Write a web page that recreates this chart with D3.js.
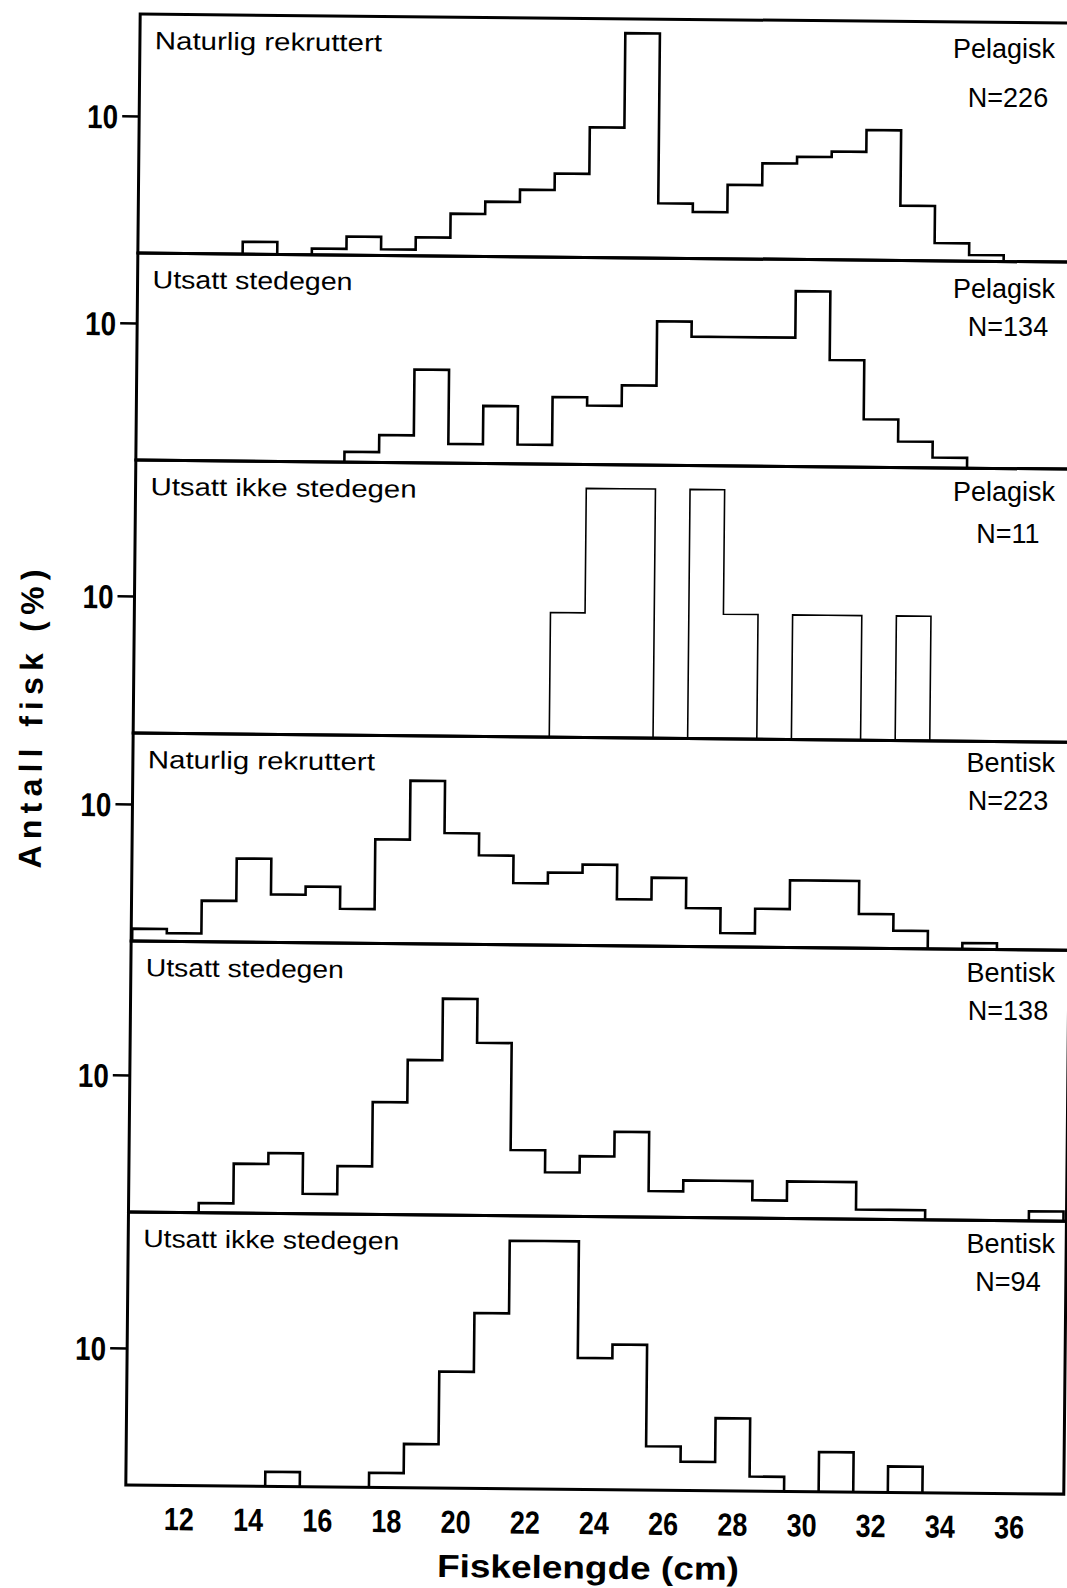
<!DOCTYPE html>
<html>
<head>
<meta charset="utf-8">
<script src="https://cdn.jsdelivr.net/npm/d3@7"></script>
<style>
  body { margin: 0; background: #fff; }
  svg { display: block; }
  text { font-family: "Liberation Sans", Arial, Helvetica, sans-serif; fill: #000; }
</style>
</head>
<body>
<div id="chart"></div>
<script>
// length classes (cm), one bin per cm, centred on the integer
const lengths = [11, 12, 13, 14, 15, 16, 17, 18, 19, 20, 21, 22, 23, 24, 25, 26, 27, 28, 29, 30, 31, 32, 33, 34, 35, 36, 37];

// percent of fish in each length class
const natPelagisk   = [0, 0, 0, 0.9, 0, 0.45, 1.35, 0.45, 1.35, 3.1, 4.0, 4.9, 6.1, 9.5, 16.4, 4.0, 3.4, 5.4, 7.0, 7.5, 7.9, 9.5, 4.0, 1.3, 0.45, 0, 0];
const stedPelagisk  = [0, 0, 0, 0, 0, 0, 0.75, 2.0, 6.8, 1.4, 4.2, 1.4, 4.9, 4.3, 5.8, 10.5, 9.4, 9.4, 9.4, 12.8, 7.8, 3.5, 1.9, 0.75, 0, 0, 0];
const ikkePelagisk  = [0, 0, 0, 0, 0, 0, 0, 0, 0, 0, 0, 0, 9.09, 18.18, 18.18, 0, 18.18, 9.09, 0, 9.09, 9.09, 0, 9.09, 0, 0, 0, 0];
const natBentisk    = [0.9, 0.6, 3.0, 6.1, 3.5, 4.1, 2.5, 7.6, 11.9, 8.1, 6.5, 4.5, 5.3, 5.9, 3.4, 5.0, 2.8, 1.0, 2.8, 4.9, 4.9, 2.5, 1.3, 0, 0.45, 0, 0];
const stedBentisk   = [0, 0, 0.7, 3.6, 4.4, 1.45, 3.5, 8.2, 11.3, 15.8, 12.6, 4.8, 3.2, 4.4, 6.2, 1.9, 2.7, 2.7, 1.3, 2.7, 2.7, 0.7, 0.7, 0, 0, 0, 0.7];
const ikkeBentisk   = [0, 0, 0, 0, 1.06, 0, 0, 1.06, 3.2, 8.5, 12.8, 18.1, 18.1, 9.6, 10.6, 3.2, 2.1, 5.3, 1.06, 0, 2.9, 0, 1.9, 0, 0, 0, 0];

const seriesList = [natPelagisk, stedPelagisk, ikkePelagisk, natBentisk, stedBentisk, ikkeBentisk];
const panelTitles = ['Naturlig rekruttert', 'Utsatt stedegen', 'Utsatt ikke stedegen',
                     'Naturlig rekruttert', 'Utsatt stedegen', 'Utsatt ikke stedegen'];
const habitats = ['Pelagisk', 'Pelagisk', 'Pelagisk', 'Bentisk', 'Bentisk', 'Bentisk'];
const sampleSizes = [226, 134, 11, 223, 138, 94];
const xTicks = [12, 14, 16, 18, 20, 22, 24, 26, 28, 30, 32, 34, 36];
const yTick = [10];

// layout
const width = 1067, height = 1588;
const left = 133, right = 1071;
const panelTop  = [14, 253, 460, 733, 941, 1212];
const panelBase = [253, 460, 733, 941, 1212, 1485];
const titleLength = [227, 200, 266, 227, 198, 256];
const habitatY = [48, 288, 491, 762, 972, 1243];
const countY = [97, 326, 533, 800, 1010, 1281];
const histStroke = [2.6, 2.6, 1.6, 2.6, 2.6, 2.6];
const pxPerPct = 13.7;

const svg = d3.select('#chart').append('svg')
  .attr('width', width)
  .attr('height', height);

svg.append('rect').attr('width', width).attr('height', height).attr('fill', '#fff');

// the scan is tilted by about half a degree
const root = svg.append('g').attr('transform', 'rotate(0.56,133,750)');

const x = d3.scaleLinear().domain([10.5, 37.5]).range([134, 1068]);

seriesList.forEach((values, i) => {
  const top = panelTop[i];
  const base = panelBase[i];
  const y = d3.scaleLinear().domain([0, 10]).range([base, base - 10 * pxPerPct]);

  const g = root.append('g').attr('class', 'panel');

  const clipId = 'clip' + i;
  g.append('clipPath').attr('id', clipId)
    .append('rect')
    .attr('x', left).attr('y', top)
    .attr('width', right - left).attr('height', base - top);

  // split into runs of non-empty classes
  const runs = [];
  let cur = null;
  lengths.forEach((l, j) => {
    if (values[j] > 0) {
      if (!cur) { cur = []; runs.push(cur); }
      cur.push([l, values[j]]);
    } else {
      cur = null;
    }
  });

  const line = d3.line()
    .x((d) => x(d[0]))
    .y((d) => y(d[1]))
    .curve(d3.curveStepAfter);

  g.append('g')
    .attr('clip-path', `url(#${clipId})`)
    .selectAll('path')
    .data(runs)
    .join('path')
    .attr('d', (r) => line([
      [r[0][0] - 0.5, 0],
      ...r.map(([l, v]) => [l - 0.5, v]),
      [r[r.length - 1][0] + 0.5, 0],
    ]))
    .attr('fill', 'none')
    .attr('stroke', '#000')
    .attr('stroke-width', histStroke[i])
    .attr('stroke-linejoin', 'miter');

  // frame
  g.append('rect')
    .attr('x', left).attr('y', top)
    .attr('width', right - left).attr('height', base - top)
    .attr('fill', 'none')
    .attr('stroke', '#000')
    .attr('stroke-width', 3);

  // y tick "10"
  const yAxis = d3.axisLeft(y).tickValues(yTick).tickSize(17).tickPadding(4);
  const ya = g.append('g')
    .attr('transform', `translate(${left},0)`)
    .call(yAxis);
  ya.select('.domain').remove();
  ya.selectAll('line').attr('stroke', '#000').attr('stroke-width', 2.5);
  ya.selectAll('text')
    .attr('font-size', 33)
    .attr('font-weight', 'bold')
    .attr('font-family', '"Liberation Sans", Arial, sans-serif')
    .attr('fill', '#000')
    .attr('dy', '0.36em')
    .attr('textLength', 31)
    .attr('lengthAdjust', 'spacingAndGlyphs');

  // panel title
  g.append('text')
    .attr('x', left + 15)
    .attr('y', top + 35)
    .attr('font-size', 25)
    .attr('textLength', titleLength[i])
    .attr('lengthAdjust', 'spacingAndGlyphs')
    .text(panelTitles[i]);

  // habitat and N labels (not tilted in the scan)
  svg.append('text')
    .attr('x', 1055)
    .attr('y', habitatY[i])
    .attr('dy', '0.36em')
    .attr('text-anchor', 'end')
    .attr('font-size', 27)
    .text(habitats[i]);

  svg.append('text')
    .attr('x', 1008)
    .attr('y', countY[i])
    .attr('dy', '0.36em')
    .attr('text-anchor', 'middle')
    .attr('font-size', 27)
    .text('N=' + sampleSizes[i]);
});

// x axis labels under the bottom panel
const xAxis = d3.axisBottom(x).tickValues(xTicks).tickSize(0).tickPadding(22);
const xa = root.append('g')
  .attr('transform', `translate(0,${panelBase[5]})`)
  .call(xAxis);
xa.select('.domain').remove();
xa.selectAll('text')
  .attr('font-size', 32)
  .attr('font-weight', 'bold')
  .attr('font-family', '"Liberation Sans", Arial, sans-serif')
  .attr('fill', '#000')
  .attr('textLength', 30)
  .attr('lengthAdjust', 'spacingAndGlyphs');

// axis titles
root.append('text')
  .attr('x', 596)
  .attr('y', 1574)
  .attr('text-anchor', 'middle')
  .attr('font-size', 32)
  .attr('font-weight', 'bold')
  .attr('textLength', 302)
  .attr('lengthAdjust', 'spacingAndGlyphs')
  .text('Fiskelengde  (cm)');

root.append('text')
  .attr('transform', 'translate(42,720) rotate(-90)')
  .attr('text-anchor', 'middle')
  .attr('font-size', 32)
  .attr('font-weight', 'bold')
  .attr('textLength', 299)
  .attr('lengthAdjust', 'spacing')
  .text('Antall  fisk  (%)');
</script>
</body>
</html>
